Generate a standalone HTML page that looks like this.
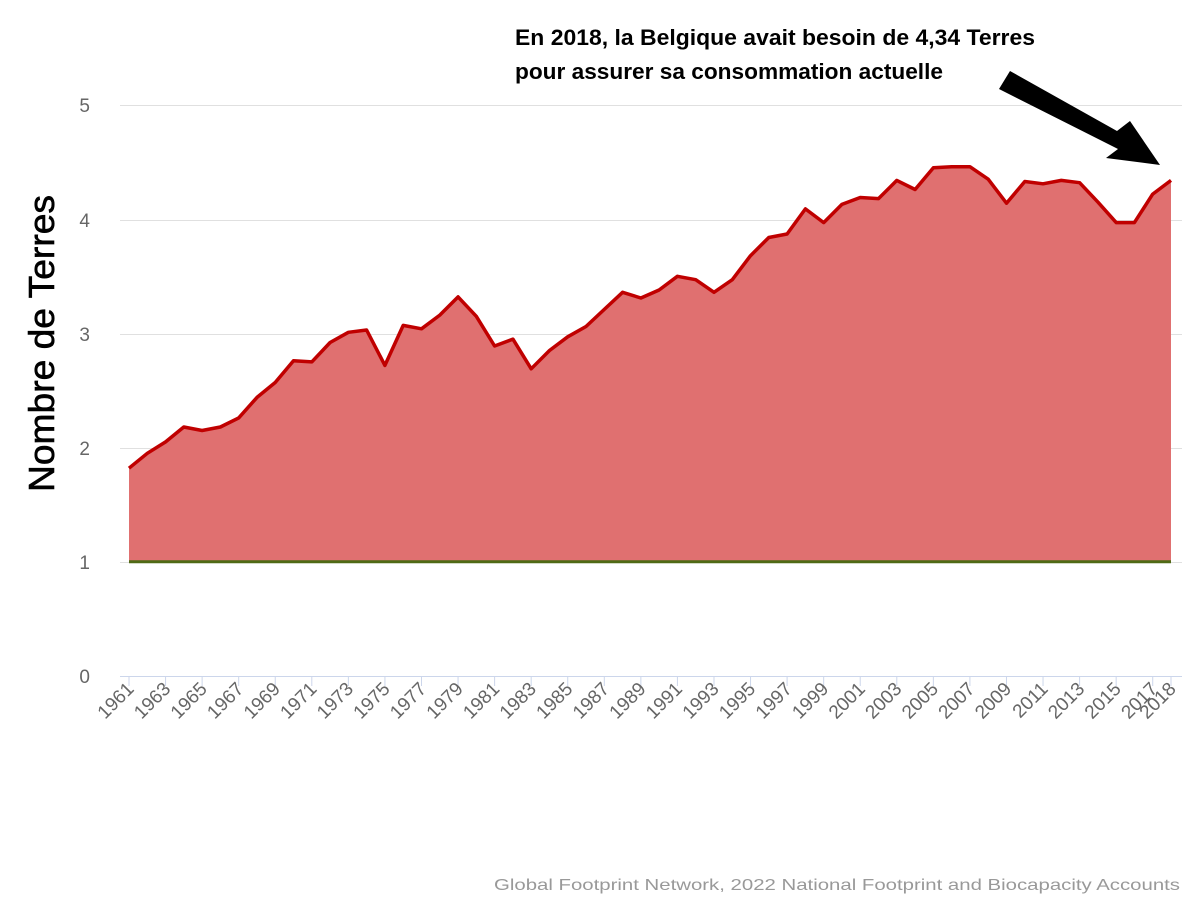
<!DOCTYPE html>
<html><head><meta charset="utf-8"><style>
body{margin:0;background:#fff;}
svg{display:block;font-family:"Liberation Sans",sans-serif;}
</style></head><body>
<svg width="1200" height="900" viewBox="0 0 1200 900" xmlns="http://www.w3.org/2000/svg">
<g stroke="#e0e0e0" stroke-width="1">
<line x1="120" x2="1182" y1="105.5" y2="105.5"/>
<line x1="120" x2="1182" y1="220.5" y2="220.5"/>
<line x1="120" x2="1182" y1="334.5" y2="334.5"/>
<line x1="120" x2="1182" y1="448.5" y2="448.5"/>
<line x1="120" x2="1182" y1="562.5" y2="562.5"/>
</g>
<g fill="#666" font-size="19" text-anchor="end">
<text x="90" y="112">5</text><text x="90" y="227">4</text><text x="90" y="341">3</text>
<text x="90" y="455">2</text><text x="90" y="569">1</text><text x="90" y="683">0</text>
</g>
<text transform="translate(54,492) rotate(-90)" font-size="36" textLength="297" lengthAdjust="spacingAndGlyphs" fill="#000" stroke="#000" stroke-width="0.6">Nombre de Terres</text>
<g id="chart"></g>
<line x1="120" x2="1182" y1="676.5" y2="676.5" stroke="#ccd6eb" stroke-width="1"/>
<g id="ticks"></g>
<text x="494" y="890" font-size="16" fill="#999" textLength="686" lengthAdjust="spacingAndGlyphs">Global Footprint Network, 2022 National Footprint and Biocapacity Accounts</text>
<text font-size="22" font-weight="bold" fill="#000"><tspan x="515" y="45" textLength="520" lengthAdjust="spacingAndGlyphs">En 2018, la Belgique avait besoin de 4,34 Terres</tspan><tspan x="515" y="79" textLength="428" lengthAdjust="spacingAndGlyphs">pour assurer sa consommation actuelle</tspan></text>
<polygon points="999,89 1010,71 1117,131 1130,121 1160,165 1106,158 1118,149" fill="#000"/>
</svg>
<script>
var v=[1.82,1.95,2.05,2.18,2.15,2.18,2.26,2.44,2.57,2.76,2.75,2.92,3.01,3.03,2.72,3.07,3.04,3.16,3.32,3.15,2.89,2.95,2.69,2.85,2.97,3.06,3.21,3.36,3.31,3.38,3.50,3.47,3.36,3.47,3.68,3.84,3.87,4.09,3.97,4.13,4.19,4.18,4.34,4.26,4.45,4.46,4.46,4.35,4.14,4.33,4.31,4.34,4.32,4.15,3.97,3.97,4.22,4.34];
function X(i){return 129+i*(1171-129)/57;}function Y(a){return 676-a*114.2;}
var pts=v.map(function(a,i){return X(i).toFixed(1)+","+Y(a).toFixed(1);});
var ns="http://www.w3.org/2000/svg",g=document.getElementById("chart");
function el(t,at,p){var e=document.createElementNS(ns,t);for(var k in at)e.setAttribute(k,at[k]);(p||g).appendChild(e);return e;}
el("polygon",{points:pts.join(" ")+" "+X(57)+","+Y(1)+" "+X(0)+","+Y(1),fill:"#e07070"});
el("line",{x1:X(0),x2:X(57),y1:Y(1),y2:Y(1),stroke:"#4f6a16","stroke-width":3});
el("polyline",{points:pts.join(" "),fill:"none",stroke:"#c00000","stroke-width":3.5,"stroke-linejoin":"round"});
var t=document.getElementById("ticks");
for(var i=0;i<=57;i++){var x=X(i);
 if(i%2==0||i==57){el("line",{x1:x,x2:x,y1:676,y2:686,stroke:"#ccd6eb"},t);
 var tx=el("text",{x:x+6,y:690,"text-anchor":"end","font-size":"19",fill:"#666",transform:"rotate(-45 "+(x+6)+" 690)"},t);tx.textContent=1961+i;}}
</script>
</body></html>
